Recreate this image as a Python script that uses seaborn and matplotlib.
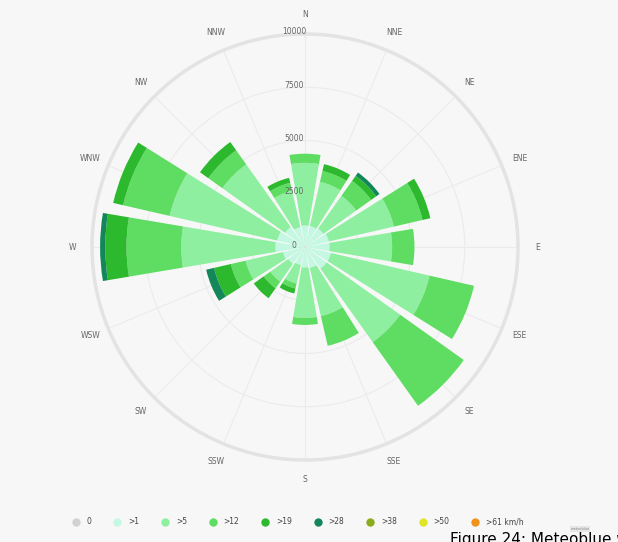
import numpy as np
import matplotlib
matplotlib.use("Agg")
import matplotlib.pyplot as plt
import matplotlib.transforms as mtransforms
from matplotlib.lines import Line2D
import seaborn as sns

# ---- data ----
directions = ["N", "NNE", "NE", "ENE", "E", "ESE", "SE", "SSE",
              "S", "SSW", "SW", "WSW", "W", "WNW", "NW", "NNW"]
speed_labels = ["0", ">1", ">5", ">12", ">19", ">28", ">38", ">50", ">61 km/h"]
calm   = [40, 40, 40, 40, 40, 40, 40, 40, 40, 40, 40, 40, 40, 40, 40, 40]
gt1    = [970, 970, 1020, 1110, 1110, 1210, 1210, 970, 920, 830, 930, 1020, 1350, 1300, 1110, 920]
gt5    = [2940, 2130, 1890, 3130, 2940, 4750, 4230, 2320, 2370, 890, 1030, 1800, 4420, 5180, 3610, 1750]
gt12   = [430, 520, 860, 1380, 1050, 2140, 3670, 1430, 330, 240, 380, 710, 2570, 2240, 810, 380]
gt19   = [0, 330, 290, 380, 0, 0, 0, 0, 0, 240, 570, 810, 1000, 480, 480, 240]
gt28   = [0, 0, 190, 0, 0, 0, 0, 0, 0, 0, 0, 380, 240, 0, 0, 0]
gt38   = [0] * 16
gt50   = [0] * 16
gt61   = [0] * 16
radial_ticks = [0, 2500, 5000, 7500, 10000]

series = [calm, gt1, gt5, gt12, gt19, gt28, gt38, gt50, gt61]
colors = ["#d2d2d2", "#c4f8e2", "#8def9f", "#5fdc62", "#2db92d",
          "#13875a", "#8aab1c", "#e0e52a", "#f0921c"]

sns.set_theme(style="white")
plt.rcParams['font.family'] = ['DejaVu Sans']

bg = "#f7f7f7"
fig = plt.figure(figsize=(6.18, 5.42), dpi=100, facecolor=bg)
ax = fig.add_axes([92 / 618, 82 / 542, 426 / 618, 426 / 542], projection='polar')
ax.set_facecolor(bg)
ax.set_theta_zero_location('N')
ax.set_theta_direction(-1)

theta = np.arange(len(directions)) * 2 * np.pi / len(directions)
width = 2 * np.pi / len(directions) * 0.85
bottom = np.zeros(len(directions))
for vals, col, lab in zip(series, colors, speed_labels):
    vals = np.array(vals, dtype=float)
    ax.bar(theta, vals, width=width, bottom=bottom, color=col,
           edgecolor='none', linewidth=0, label=lab, zorder=3)
    bottom += vals

ax.set_ylim(0, radial_ticks[-1])
ax.set_yticks(radial_ticks[1:-1])
ax.set_yticklabels([])
ax.set_xticks(theta)
ax.set_xticklabels(directions, fontsize=5.5, color="#666666")
ax.tick_params(axis='x', pad=1)
ax.grid(True, color="#ebebeb", linewidth=0.8)
ax.spines['polar'].set_color("#e3e3e3")
ax.spines['polar'].set_linewidth(2.5)

off = mtransforms.offset_copy(ax.transData, fig=fig, x=-11, y=2, units='dots')
for v in radial_ticks:
    ax.text(0, v, f"{v}", transform=off, ha='center', va='center',
            fontsize=5.5, color="#666666", zorder=5)

handles = [Line2D([0], [0], marker='o', linestyle='none', markersize=6,
                  markerfacecolor=c, markeredgecolor='none') for c in colors]
fig.legend(handles, speed_labels, ncol=9, loc='center',
           bbox_to_anchor=(0.479, 1 - 522 / 542), frameon=False,
           fontsize=5.5, handletextpad=0.4, columnspacing=2.4,
           labelcolor="#444444")

fig.text(450 / 618, 1 - 532 / 542, "Figure 24: Meteoblue wind rose",
         fontsize=11, color="black", ha='left', va='top')
fig.text(580 / 618, 1 - 529 / 542, "meteoblue", fontsize=2.5, color="#888888",
         ha='center', va='center',
         bbox=dict(facecolor="#e6e6e6", edgecolor='none', pad=0.5))

fig.savefig("out.png", dpi=100, facecolor=bg)
